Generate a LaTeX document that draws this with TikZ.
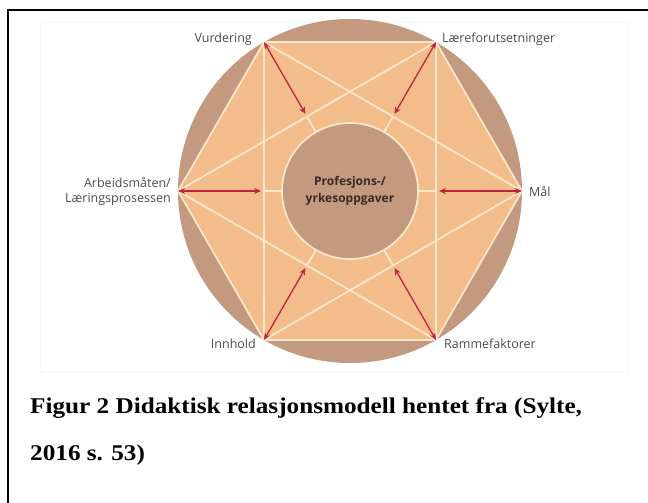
\documentclass[tikz,border=0pt]{standalone}
\usepackage{fontspec}
\setmainfont{Liberation Serif}
\newfontfamily\labelfont{Open Sans}
\newfontfamily\captionfont[FakeStretch=1.12]{Liberation Serif}
\usetikzlibrary{arrows.meta}
\definecolor{ringbrown}{HTML}{C39A80}
\definecolor{hexorange}{HTML}{F3BD8B}
\definecolor{creamline}{HTML}{FCE8CC}
\definecolor{arrowred}{HTML}{BE2439}
\definecolor{labelgray}{HTML}{4A4A4A}
\definecolor{coretext}{HTML}{3B2A22}
\tikzset{
  corner/.style={font=\labelfont\fontsize{12.5}{15}\selectfont, text=labelgray, inner sep=1pt},
  web/.style={creamline, line width=1.7pt},
  relation/.style={arrowred, line width=1.3pt, {Stealth[length=7pt,width=6pt]}-{Stealth[length=7pt,width=6pt]}},
  captionline/.style={anchor=base west, inner sep=0pt, font=\captionfont\bfseries\fontsize{22.5}{27}\selectfont}
}
\begin{document}
\begin{tikzpicture}[x=1pt,y=1pt]
\useasboundingbox (0,0) rectangle (648,-503);
% frame of the page
\draw[line width=2pt] (8,-503) -- (8,-10) -- (648,-10);
\draw[black!3, line width=0.8pt] (40,-372) rectangle (628,-22);
% corners of the hexagon
\coordinate (C) at (350,-191);
\foreach \a/\n in {0/mal,60/laer,120/vurd,180/arb,240/innh,300/ramm} {
  \coordinate (\n) at ([shift={(\a:172)}]C);
  \coordinate (\n-mid) at ([shift={(\a:86)}]C);
  \coordinate (\n-tip) at ([shift={(\a:89)}]C);
  \coordinate (\n-in) at ([shift={(\a:68)}]C);
}
\fill[ringbrown] (C) circle[radius=172pt];
\fill[hexorange] (mal) -- (laer) -- (vurd) -- (arb) -- (innh) -- (ramm) -- cycle;
% star and spokes
\draw[web, line join=round] (mal) -- (laer) -- (vurd) -- (arb) -- (innh) -- (ramm) -- cycle;
\draw[web] (vurd) -- (mal) -- (innh) -- cycle;
\draw[web] (laer) -- (arb) -- (ramm) -- cycle;
\foreach \n in {mal,laer,vurd,arb,innh,ramm}
  \draw[web] (\n-in) -- (\n-mid);
\node[circle, minimum size=136pt, inner sep=0pt, fill=ringbrown, draw=creamline, line width=1.7pt,
  align=center, text=coretext, font=\labelfont\bfseries\fontsize{12}{17}\selectfont] (core) at (C)
  {Profesjons-/\\yrkesoppgaver};
% arrows
\foreach \n in {mal,laer,vurd,arb,innh,ramm}
  \draw[relation] (\n) -- (\n-tip);
% labels
\node[corner, anchor=east] (vurdlabel) at ([xshift=-11pt,yshift=3pt]vurd) {Vurdering};
\node[corner, anchor=west] (laerlabel) at ([xshift=5pt,yshift=3pt]laer) {Læreforutsetninger};
\node[corner, anchor=east, align=right] (arblabel) at ([xshift=-6pt]arb) {Arbeidsmåten/\\Læringsprosessen};
\node[corner, anchor=west] (mallabel) at ([xshift=6pt]mal) {Mål};
\node[corner, anchor=east] (innhlabel) at ([xshift=-7pt,yshift=-4pt]innh) {Innhold};
\node[corner, anchor=west] (rammlabel) at ([xshift=7pt,yshift=-4pt]ramm) {Rammefaktorer};
% caption
\node[captionline] (cap1) at (30,-413) {Figur 2 Didaktisk relasjonsmodell hentet fra (Sylte,};
\node[captionline] (cap2) at (30,-460) {2016 s. 53)};
\end{tikzpicture}
\end{document}
